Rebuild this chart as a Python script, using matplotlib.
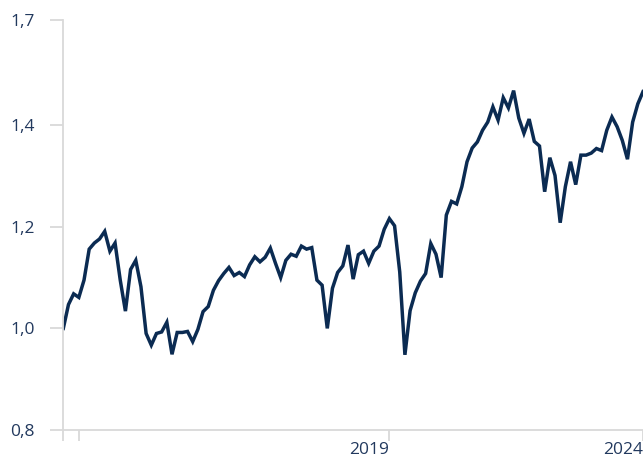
#!/usr/bin/env python3

# Libraries
import numpy as np
from matplotlib import pyplot as plt

# Data (index level)
Values = [
    1.000, 1.047, 1.068, 1.061, 1.095, 1.156, 1.168, 1.176, 1.191, 1.152,
    1.168, 1.095, 1.034, 1.116, 1.134, 1.082, 0.990, 0.967, 0.990, 0.993,
    1.012, 0.949, 0.992, 0.992, 0.994, 0.974, 0.998, 1.033, 1.043, 1.075,
    1.094, 1.108, 1.120, 1.104, 1.110, 1.102, 1.125, 1.141, 1.131, 1.140,
    1.158, 1.128, 1.100, 1.134, 1.146, 1.142, 1.162, 1.156, 1.159, 1.095,
    1.085, 1.000, 1.079, 1.110, 1.123, 1.164, 1.097, 1.145, 1.152, 1.128,
    1.152, 1.162, 1.195, 1.216, 1.202, 1.111, 0.948, 1.035, 1.070, 1.093,
    1.108, 1.167, 1.146, 1.100, 1.223, 1.250, 1.245, 1.279, 1.328, 1.355,
    1.367, 1.390, 1.406, 1.436, 1.410, 1.454, 1.434, 1.468, 1.414, 1.384,
    1.412, 1.368, 1.359, 1.269, 1.336, 1.301, 1.208, 1.279, 1.328, 1.283,
    1.341, 1.341, 1.345, 1.354, 1.350, 1.390, 1.416, 1.397, 1.370, 1.333,
    1.406, 1.442, 1.466,
]
XTickPositions = [0, 3, 63, 112]
XTickLabels = ['', '', '2019', '2024']
YTickValues = [0.8, 1.0, 1.2, 1.4, 1.607]
YTickLabels = ['0,8', '1,0', '1,2', '1,4', '1,7']


def main():
    plt.rcParams['font.family'] = ['Open Sans', 'DejaVu Sans']
    LineColor = '#0b2b52'
    TextColor = '#22395e'
    AxisColor = '#d9d9d9'

    fig = plt.figure(figsize=(6.43, 4.59), dpi=100)
    ax = fig.add_axes([63 / 643, 29 / 459, 580 / 643, 410 / 459])

    X = np.arange(len(Values))
    ax.plot(X, Values, color=LineColor, linewidth=2.5, solid_joinstyle='miter', clip_on=True)

    ax.set_xlim(-0.06, 111.48)
    ax.set_ylim(0.8, 1.607)

    # Spines
    for side in ['top', 'right']:
        ax.spines[side].set_visible(False)
    for side in ['left', 'bottom']:
        ax.spines[side].set_color(AxisColor)
        ax.spines[side].set_linewidth(1.3)

    # Ticks
    ax.set_yticks(YTickValues, YTickLabels)
    ax.set_xticks(XTickPositions, XTickLabels)
    ax.tick_params(axis='y', length=9.5, width=1.3, color=AxisColor, pad=11,
                   labelsize=12.5, labelcolor=TextColor)
    ax.tick_params(axis='x', length=8, width=1.3, color=AxisColor, pad=1,
                   labelsize=12.5, labelcolor=TextColor)
    for Label in ax.get_xticklabels():
        Label.set_horizontalalignment('right')
    for Tick in ax.xaxis.get_major_ticks():
        Tick.tick1line.set_clip_on(False)

    fig.savefig('out.png', dpi=100)


# Execute main function
if __name__ == '__main__':
    main()
